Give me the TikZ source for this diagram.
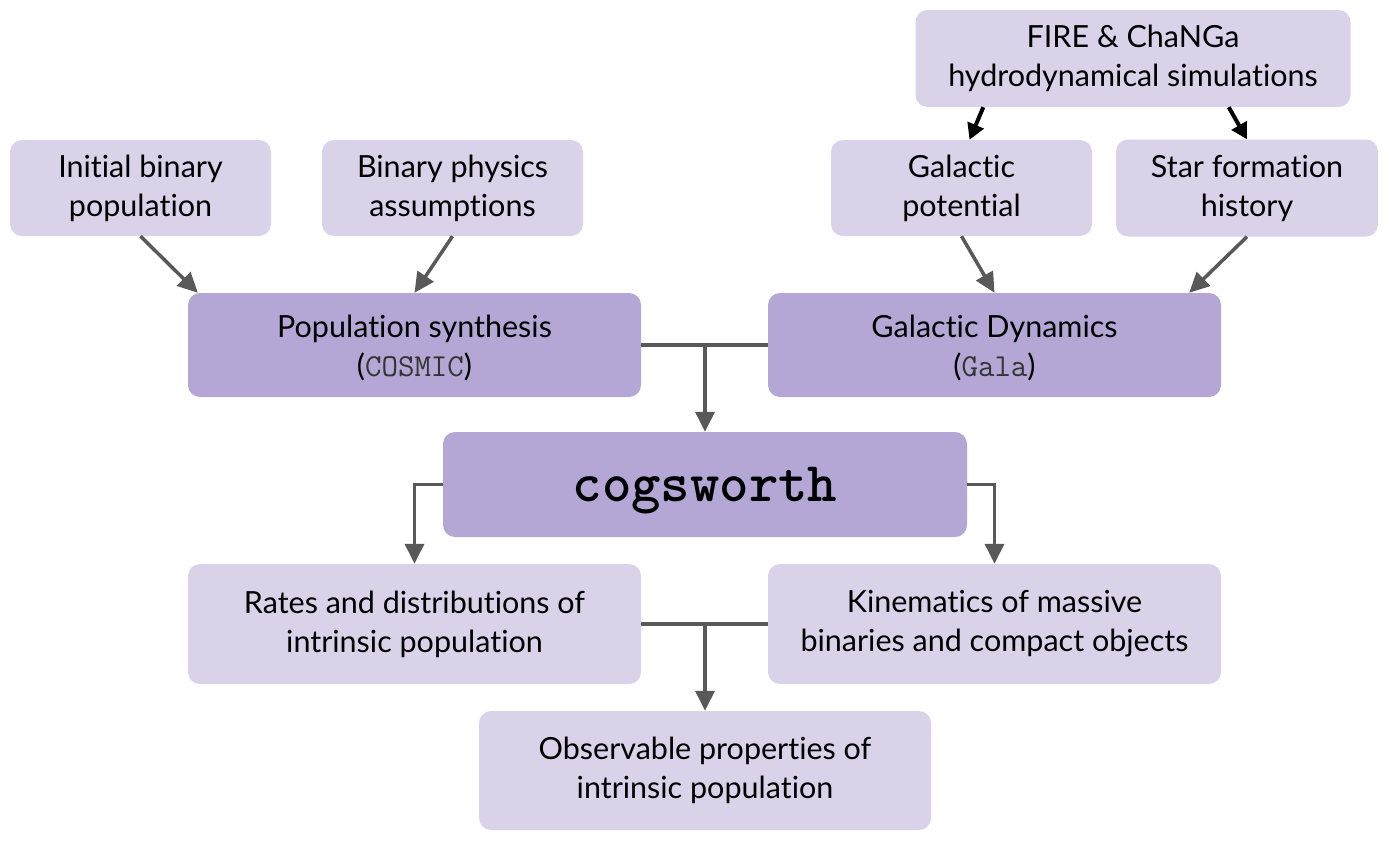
\documentclass[tikz,border=0pt]{standalone}
\usepackage{fontspec}
\setmainfont{Lato}[Ligatures=NoCommon]
\usetikzlibrary{arrows.meta,positioning}
\definecolor{boxlight}{HTML}{D9D2E9}
\definecolor{boxdark}{HTML}{B4A7D6}
\definecolor{linegray}{HTML}{595959}
\newcommand{\code}[1]{{\fontsize{32}{39}\selectfont\ttfamily\color{black!80}#1}}
\newcommand{\sinkby}[2]{\raisebox{-#1}[\height][\depth]{#2}}

\begin{document}
\begin{tikzpicture}[x=1pt,y=-1pt]
        \tikzstyle{every node}+=[inner sep=0pt, align=center, font=\fontsize{30.5}{39}\selectfont]
        \tikzstyle{light}=[rectangle, rounded corners=12pt, fill=boxlight]
        \tikzstyle{dark}=[rectangle, rounded corners=12pt, fill=boxdark]
        \tikzstyle{link}=[linegray, line width=3.5pt]
        \tikzstyle{flow}=[link, -{Triangle[length=20pt,width=19pt]}]
        \tikzstyle{feed}=[black, line width=4pt, -{Triangle[length=16pt,width=17pt]}]
        \useasboundingbox (0,0) rectangle (1390,841);
        % inputs
        \node [light, minimum width=261pt, minimum height=96pt] (init) at (140.5,188) {Initial binary\\population};
        \node [light, minimum width=261pt, minimum height=96pt] (phys) at (452.5,188) {Binary physics\\assumptions};
        \node [light, minimum width=435pt, minimum height=97pt] (fire) at (1133,58.5) {FIRE \& ChaNGa\\hydrodynamical simulations};
        \node [light, minimum width=261pt, minimum height=96pt] (gpot) at (961.5,188) {Galactic\\potential};
        \node [light, minimum width=262pt, minimum height=97pt] (star) at (1247,188) {Star formation\\history};
        % codes
        \node [dark, minimum width=453pt, minimum height=104pt] (pop) at (414.5,345) {\sinkby{3pt}{Population synthesis}\\\sinkby{3pt}{(\code{COSMIC})}};
        \node [dark, minimum width=453pt, minimum height=104pt] (gal) at (994.5,345) {\sinkby{3pt}{Galactic Dynamics}\\\sinkby{3pt}{(\code{Gala})}};
        \node [dark, minimum width=524pt, minimum height=105pt, font=\fontsize{56}{60}\selectfont\ttfamily\bfseries] (cog) at (705,484.5) {\sinkby{6pt}{cogsworth}};
        % outputs
        \node [light, minimum width=453pt, minimum height=120pt] (rates) at (414.5,624) {Rates and distributions of\\intrinsic population};
        \node [light, minimum width=453pt, minimum height=120pt] (kin) at (994.5,624) {Kinematics of massive\\binaries and compact objects};
        \node [light, minimum width=452pt, minimum height=119pt] (obs) at (705,770.5) {Observable properties of\\intrinsic population};
        % connectors
        \draw [feed] ([xshift=68pt]fire.south west) -- ([xshift=8pt]gpot.north);
        \draw [feed] ([xshift=-122pt]fire.south east) -- (star.north);
        \draw [flow] (init.south) -- ([xshift=10pt]pop.north west);
        \draw [flow] (phys.south) -- (pop.north);
        \draw [flow] (gpot.south) -- (gal.north);
        \draw [flow] (star.south) -- ([xshift=-32pt]gal.north east);
        \draw [link] (pop.east) -- (gal.west);
        \draw [flow] (cog.north |- pop.east) -- (cog.north);
        \draw [flow] (cog.west) -| (rates.north);
        \draw [flow] (cog.east) -| (kin.north);
        \draw [link] (rates.east) -- (kin.west);
        \draw [flow] (obs.north |- rates.east) -- (obs.north);
\end{tikzpicture}
\end{document}
